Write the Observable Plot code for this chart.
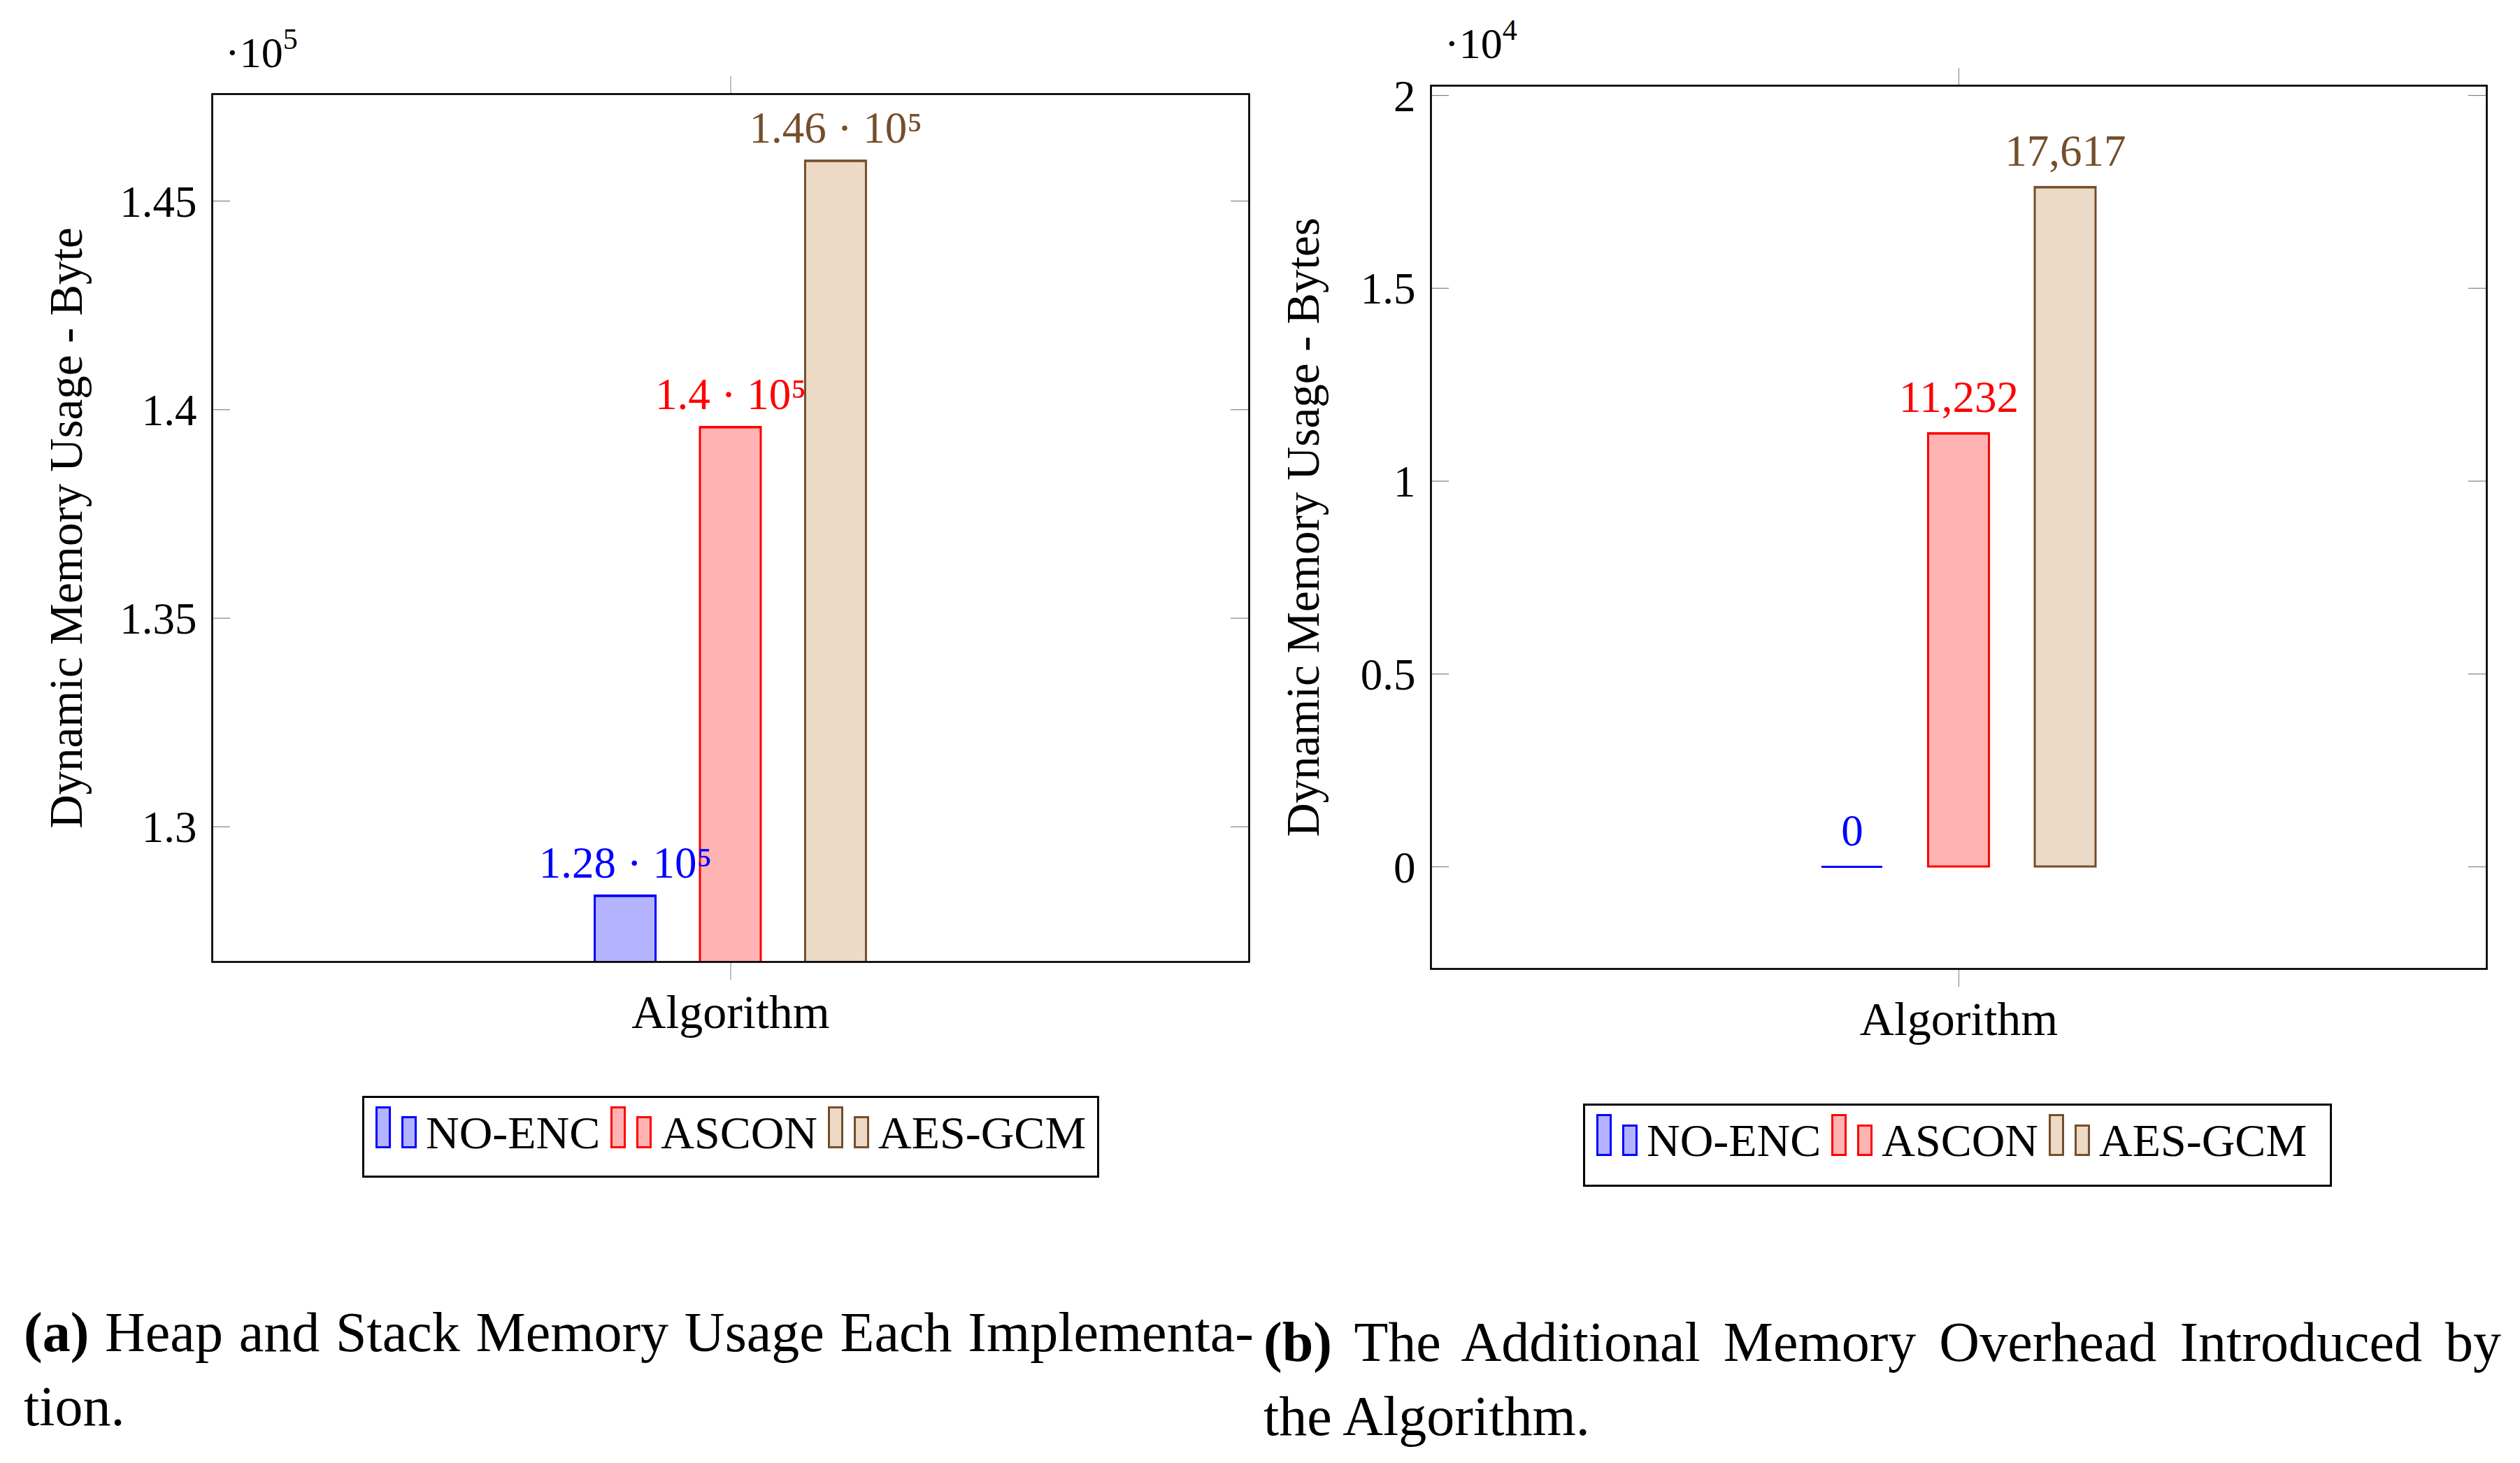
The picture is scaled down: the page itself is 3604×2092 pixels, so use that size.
<!DOCTYPE html>
<html><head><meta charset="utf-8">
<script src="https://cdn.jsdelivr.net/npm/d3@7"></script>
<script src="https://cdn.jsdelivr.net/npm/@observablehq/plot@0.6"></script>
<style>
html,body{margin:0;padding:0;background:#fff;}
body{width:3604px;height:2092px;position:relative;overflow:hidden;font-family:"Liberation Serif",serif;color:#000;}
.abs{position:absolute;white-space:nowrap;}
.legend{position:absolute;box-sizing:border-box;border:3px solid #000;display:flex;align-items:baseline;}
.sw{display:inline-flex;align-items:flex-end;}
.sw span{display:inline-block;box-sizing:border-box;border:3px solid;width:22px;}
.lt{font-size:66px;line-height:66px;}
.cap{position:absolute;white-space:nowrap;}
</style></head><body>
<div id="chartA" class="abs" style="left:0;top:0"></div>
<div id="chartB" class="abs" style="left:1800px;top:0"></div>
<script>
// ---- data ----
const series = ["NO-ENC", "ASCON", "AES-GCM"];
const group = "Algorithm";
const heapValues = [128343, 139575, 145960];
const heapLabels = ["1.28 · 10⁵", "1.4 · 10⁵", "1.46 · 10⁵"];
const overheadValues = [0, 11232, 17617];
const overheadLabels = ["0", "11,232", "17,617"];
const heapTicks = [130000, 135000, 140000, 145000];
const heapTickLabels = ["1.3", "1.35", "1.4", "1.45"];
const overheadTicks = [0, 5000, 10000, 15000, 20000];
const overheadTickLabels = ["0", "0.5", "1", "1.5", "2"];
const strokeColors = ["#0000ff", "#ff0000", "#754e2b"];
const fillColors = ["#b3b3ff", "#ffb3b3", "#ecd9c6"];

function chart(o) {
  const data = series.map((s, i) => ({group, series: s, value: o.values[i], label: o.labels[i], fill: fillColors[i], stroke: strokeColors[i]}));
  const W = o.width - o.ml - o.mr;
  const fmt = d => o.tickLabels[o.ticks.indexOf(d)];
  return Plot.plot({
    width: o.width, height: o.height,
    marginLeft: o.ml, marginRight: o.mr, marginTop: o.mt, marginBottom: o.mb,
    style: {fontFamily: '"Liberation Serif", serif', fontSize: "62px", background: "white", color: "black", overflow: "visible"},
    fx: {domain: [group], padding: 0, axis: null, label: null},
    x: {domain: series, paddingInner: o.pi, paddingOuter: o.po, align: 0.5, round: false, axis: null},
    y: {domain: o.domain, axis: null},
    color: {type: "identity"},
    marks: [
      Plot.gridY(o.ticks, {stroke: "#808080", strokeOpacity: 1, strokeWidth: 1.2, insetRight: W - 26}),
      Plot.gridY(o.ticks, {stroke: "#808080", strokeOpacity: 1, strokeWidth: 1.2, insetLeft: W - 26}),
      Plot.barY(data, {fx: "group", x: "series", y: "value", fill: "fill", stroke: "stroke", strokeWidth: 3, clip: true}),
      Plot.tickY(data, {fx: "group", x: "series", y: "value", stroke: "stroke", strokeWidth: 3}),
      Plot.text(data, {fx: "group", x: "series", y: "value", text: "label", fill: "stroke", lineAnchor: "bottom", dy: o.valueDy, fontSize: 63}),
      Plot.axisY(o.ticks, {tickFormat: fmt, tickSize: 0, tickPadding: 22, fontSize: 63, label: null, dy: 2}),
      Plot.axisFx({anchor: "bottom", tickSize: 26, tickPadding: 20, stroke: "#808080", fontSize: 68, label: null}),
      Plot.axisFx({anchor: "top", tickSize: 26, tickFormat: () => "", stroke: "#808080", label: null}),
      Plot.text([o.yLabel], {text: d => d, frameAnchor: "left", rotate: -90, dx: o.labelDx, lineAnchor: "bottom", textAnchor: "middle", fontSize: 67}),
      Plot.frame({stroke: "black", strokeWidth: 2.7})
    ]
  });
}

document.getElementById("chartA").append(chart({
  values: heapValues, labels: heapLabels, ticks: heapTicks, tickLabels: heapTickLabels,
  domain: [126761, 147565], yLabel: "Dynamic Memory Usage - Byte",
  width: 1800, height: 1500, ml: 303, mr: 14, mt: 134, mb: 125,
  pi: 0.4217, po: 3.6394, labelDx: -187, valueDy: -26
}));
document.getElementById("chartB").append(chart({
  values: overheadValues, labels: overheadLabels, ticks: overheadTicks, tickLabels: overheadTickLabels,
  domain: [-2647, 20254], yLabel: "Dynamic Memory Usage - Bytes",
  width: 1804, height: 1500, ml: 246, mr: 48, mt: 122, mb: 115,
  pi: 0.4295, po: 3.666, labelDx: -161, valueDy: -31
}));

// text placed by baseline (Liberation Serif: baseline at 0.8375em with line-height 1)
function place(html, x, baseline, size, cls) {
  const d = document.createElement("div");
  d.className = cls || "abs";
  d.style.left = x + "px";
  d.style.top = (baseline - 0.8375 * size) + "px";
  d.style.fontSize = size + "px";
  d.style.lineHeight = size + "px";
  d.innerHTML = html;
  document.body.append(d);
  return d;
}
// axis multipliers
place('·10<span style="font-size:42px;line-height:0;vertical-align:26px">5</span>', 322, 96, 62);
place('·10<span style="font-size:42px;line-height:0;vertical-align:26px">4</span>', 2066, 83, 62);

// legends
function legend(o) {
  const box = document.createElement("div");
  box.className = "legend";
  Object.assign(box.style, {left: o.left + "px", top: o.top + "px", width: o.width + "px", height: o.height + "px",
    paddingTop: o.padTop + "px", paddingLeft: o.padLeft + "px"});
  series.forEach((s, i) => {
    const sw = document.createElement("span");
    sw.className = "sw";
    sw.style.marginBottom = o.swBottom + "px";
    sw.style.marginLeft = (i === 0 ? 0 : 15) + "px";
    [o.h1, o.h2].forEach((h, j) => {
      const r = document.createElement("span");
      r.style.height = h + "px";
      r.style.borderColor = strokeColors[i];
      r.style.background = fillColors[i];
      if (j === 1) r.style.marginLeft = "15px";
      sw.append(r);
    });
    const t = document.createElement("span");
    t.className = "lt";
    t.style.marginLeft = "13px";
    t.textContent = s;
    box.append(sw, t);
  });
  document.body.append(box);
}
legend({left: 518, top: 1567, width: 1054, height: 117, padTop: 12, padLeft: 16, h1: 60, h2: 46, swBottom: 4});
legend({left: 2264, top: 1578, width: 1071, height: 119, padTop: 12, padLeft: 16, h1: 60, h2: 45, swBottom: 5});

// captions: first lines stretched to the measured line width (justified like the source)
function fitLine(d, target) {
  const natural = d.getBoundingClientRect().width;
  const spaces = (d.textContent.match(/ /g) || []).length;
  if (spaces && natural < target) d.style.wordSpacing = ((target - natural) / spaces) + "px";
  else if (natural > target) d.style.letterSpacing = ((target - natural) / d.textContent.length) + "px";
}
const CAP = 80;
fitLine(place('<b>(a)</b> Heap and Stack Memory Usage Each Implementa-', 34, 1932, CAP, "cap"), 1759);
place('tion.', 34, 2038, CAP, "cap");
fitLine(place('<b>(b)</b> The Additional Memory Overhead Introduced by', 1807, 1946, CAP, "cap"), 1770);
place('the Algorithm.', 1807, 2052, CAP, "cap");
</script>
</body></html>
